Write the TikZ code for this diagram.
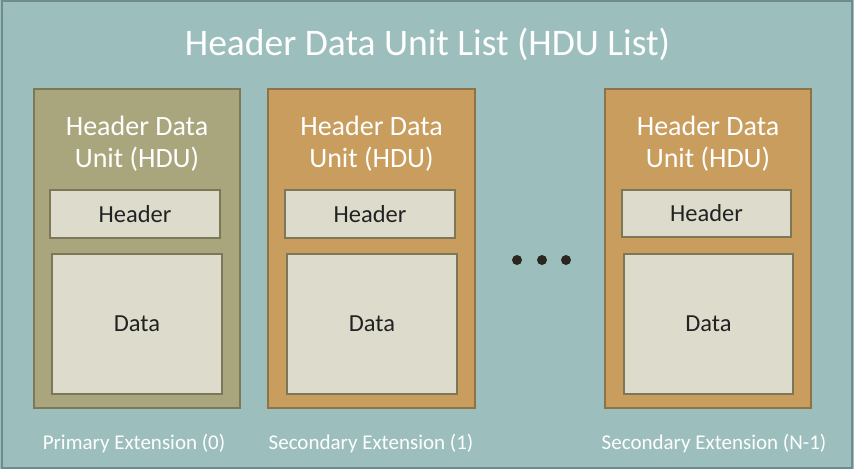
\documentclass[tikz,border=0pt]{standalone}
\usepackage{fontspec}
\setmainfont{Carlito}
\definecolor{bgc}{HTML}{9CBEBD}
\definecolor{outerc}{HTML}{6F8B8A}
\definecolor{olivef}{HTML}{A9A67D}
\definecolor{olived}{HTML}{7D7958}
\definecolor{orangef}{HTML}{C89D5D}
\definecolor{oranged}{HTML}{8C7448}
\definecolor{innerf}{HTML}{DDDBCC}
\definecolor{innerd}{HTML}{7B7758}
\definecolor{darktext}{HTML}{222222}
\definecolor{dotc}{HTML}{2B2720}
\tikzset{
  hdubox/.style={draw, line width=2pt, anchor=north west, inner sep=0pt, outer sep=0pt},
  olivebox/.style={hdubox, fill=olivef, draw=olived},
  orangebox/.style={hdubox, fill=orangef, draw=oranged},
  innerbox/.style={draw=innerd, fill=innerf, line width=2pt, anchor=north west, inner sep=0pt, outer sep=0pt, text=darktext, font=\fontsize{24.5}{24.5}\selectfont},
  titletext/.style={text=white, anchor=base, inner sep=0pt, font=\fontsize{37.5}{37.5}\selectfont},
  hdutitle/.style={text=white, anchor=base, inner sep=0pt, font=\fontsize{28}{28}\selectfont},
  labeltext/.style={text=white, anchor=base, inner sep=0pt, font=\fontsize{21}{21}\selectfont},
  dotnode/.style={circle, fill=dotc, minimum size=10pt, inner sep=0pt},
}
\begin{document}
\begin{tikzpicture}[x=1pt,y=-1pt]
\useasboundingbox (0,0) rectangle (854,469);
\fill[bgc] (0,0) rectangle (854,469);
\draw[outerc, line width=2pt] (2,0.5) rectangle (852,468);
\node[titletext] (title) at (427.5,55) {Header Data Unit List (HDU List)};
% box 1
\node[olivebox, minimum width=206pt, minimum height=319pt] (b1) at (34,89) {};
\node[innerbox, minimum width=170pt, minimum height=48pt] (h1) at (50,190) {Header};
\node[innerbox, minimum width=170pt, minimum height=140pt] (d1) at (52,254) {Data};
\node[hdutitle] (t1a) at (137,135) {Header Data};
\node[hdutitle] (t1b) at (137,167) {Unit (HDU)};
% box 2
\node[orangebox, minimum width=207pt, minimum height=319pt] (b2) at (268,89) {};
\node[innerbox, minimum width=170pt, minimum height=48pt] (h2) at (285,190) {Header};
\node[innerbox, minimum width=170pt, minimum height=140pt] (d2) at (287,254) {Data};
\node[hdutitle] (t2a) at (371.5,135) {Header Data};
\node[hdutitle] (t2b) at (371.5,167) {Unit (HDU)};
% box 3
\node[orangebox, minimum width=206pt, minimum height=319pt] (b3) at (605,89) {};
\node[innerbox, minimum width=169pt, minimum height=47pt] (h3) at (622,190) {Header};
\node[innerbox, minimum width=169pt, minimum height=140pt] (d3) at (624,254) {Data};
\node[hdutitle] (t3a) at (708,135) {Header Data};
\node[hdutitle] (t3b) at (708,167) {Unit (HDU)};
% dots
\node[dotnode] (dt1) at (517,260) {};
\node[dotnode] (dt2) at (542,260) {};
\node[dotnode] (dt3) at (566,260) {};
% labels
\node[labeltext] (l1) at (134,449) {Primary Extension (0)};
\node[labeltext] (l2) at (371,449) {Secondary Extension (1)};
\node[labeltext] (l3) at (714,449) {Secondary Extension (N-1)};
\end{tikzpicture}
\end{document}
